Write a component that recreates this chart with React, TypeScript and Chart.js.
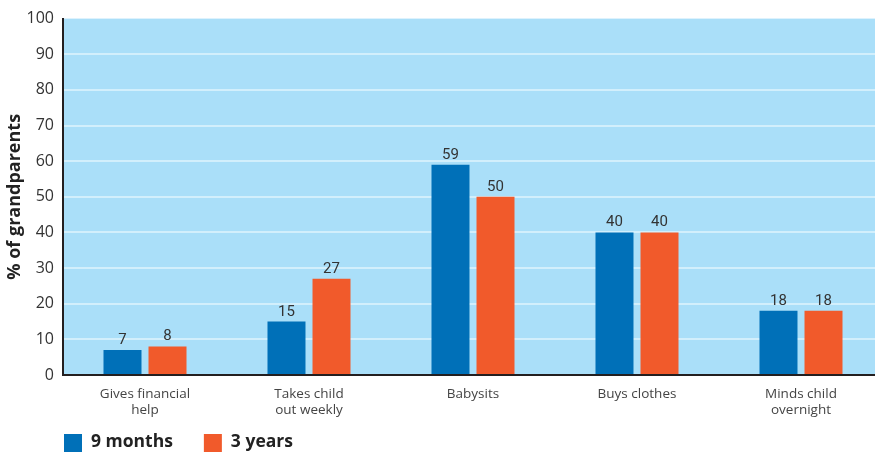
import React, { useEffect, useRef } from "react";
import { Chart, registerables } from "chart.js";

Chart.register(...registerables);

const categories: string[][] = [
  ["Gives financial", "help"],
  ["Takes child", "out weekly"],
  ["Babysits"],
  ["Buys clothes"],
  ["Minds child", "overnight"],
];
const nineMonths: number[] = [7, 15, 59, 40, 18];
const threeYears: number[] = [8, 27, 50, 40, 18];
const seriesNames = ["9 months", "3 years"];
const yTicks = { min: 0, max: 100, step: 10 };

const BLUE = "#0070b8";
const ORANGE = "#f15a2b";
const BG = "#aadff9";
const GRID = "#d2effc";
const AXIS = "#231f20";

const bgPlugin = {
  id: "plotBg",
  beforeDraw(chart: any) {
    const { ctx, chartArea } = chart;
    ctx.save();
    ctx.fillStyle = BG;
    ctx.fillRect(chartArea.left, chartArea.top, chartArea.right - chartArea.left, chartArea.bottom - chartArea.top);
    ctx.restore();
  },
};

const valueLabels = {
  id: "valueLabels",
  afterDatasetsDraw(chart: any) {
    const { ctx } = chart;
    ctx.save();
    ctx.font = '15px "Liberation Sans Narrow", "Roboto", sans-serif';
    ctx.fillStyle = "#333333";
    ctx.textAlign = "center";
    ctx.textBaseline = "alphabetic";
    chart.data.datasets.forEach((ds: any, i: number) => {
      const meta = chart.getDatasetMeta(i);
      meta.data.forEach((el: any, j: number) => {
        ctx.fillText(String(ds.data[j]), el.x, el.y - 6);
      });
    });
    ctx.restore();
  },
};

const legendPlugin = {
  id: "customLegend",
  afterDraw(chart: any) {
    const { ctx, chartArea } = chart;
    ctx.save();
    ctx.font = 'bold 17.5px "Open Sans", sans-serif';
    ctx.textBaseline = "alphabetic";
    ctx.fillStyle = "#222222";
    let x = chartArea.left + 1;
    const y = 434;
    chart.data.datasets.forEach((ds: any) => {
      ctx.fillStyle = ds.backgroundColor;
      ctx.fillRect(x, y, 18, 18);
      ctx.fillStyle = "#222222";
      ctx.fillText(ds.label, x + 27, 447);
      x += 27 + ctx.measureText(ds.label).width + 31;
    });
    ctx.restore();
  },
};

export default function App() {
  const ref = useRef<HTMLCanvasElement | null>(null);
  useEffect(() => {
    if (!ref.current) return;
    const chart = new Chart(ref.current, {
      type: "bar",
      data: {
        labels: categories,
        datasets: [
          { label: seriesNames[0], data: nineMonths, backgroundColor: BLUE, categoryPercentage: 0.549, barPercentage: 0.844 },
          { label: seriesNames[1], data: threeYears, backgroundColor: ORANGE, categoryPercentage: 0.549, barPercentage: 0.844 },
        ],
      },
      options: {
        responsive: false,
        animation: false,
        layout: { padding: { left: 0, right: 7, top: 15, bottom: 27 } },
        plugins: { legend: { display: false }, tooltip: { enabled: false } },
        scales: {
          x: {
            grid: { display: false, drawTicks: false },
            border: { display: true, color: AXIS, width: 2 },
            ticks: {
              padding: 11,
              color: "#444444",
              maxRotation: 0,
              autoSkip: false,
              font: { family: '"Open Sans", sans-serif', size: 13.5, lineHeight: 1.2 },
            },
            afterFit: (s: any) => { s.height = 50; },
          },
          y: {
            min: yTicks.min,
            max: yTicks.max,
            grid: {
              drawTicks: false,
              lineWidth: 2,
              color: (c: any) => (c.tick && (c.tick.value === yTicks.min || c.tick.value === yTicks.max) ? "rgba(0,0,0,0)" : GRID),
            },
            border: { display: true, color: AXIS, width: 2 },
            ticks: {
              stepSize: yTicks.step,
              padding: 9,
              color: "#333333",
              font: { family: '"Open Sans", sans-serif', size: 16 },
            },
            title: {
              display: true,
              text: "% of grandparents",
              color: "#222222",
              padding: { top: 4, bottom: 0 },
              font: { family: '"Open Sans", sans-serif', size: 18, weight: "bold" },
            },
            afterFit: (s: any) => { s.width = 63; },
          },
        },
      },
      plugins: [bgPlugin, valueLabels, legendPlugin],
    });
    return () => chart.destroy();
  }, []);
  return (
    <div style={{ position: "absolute", left: 0, top: 0, width: 875, height: 452, overflow: "hidden", background: "#fff" }}>
      <canvas ref={ref} width={890} height={452} style={{ display: "block" }} />
    </div>
  );
}
